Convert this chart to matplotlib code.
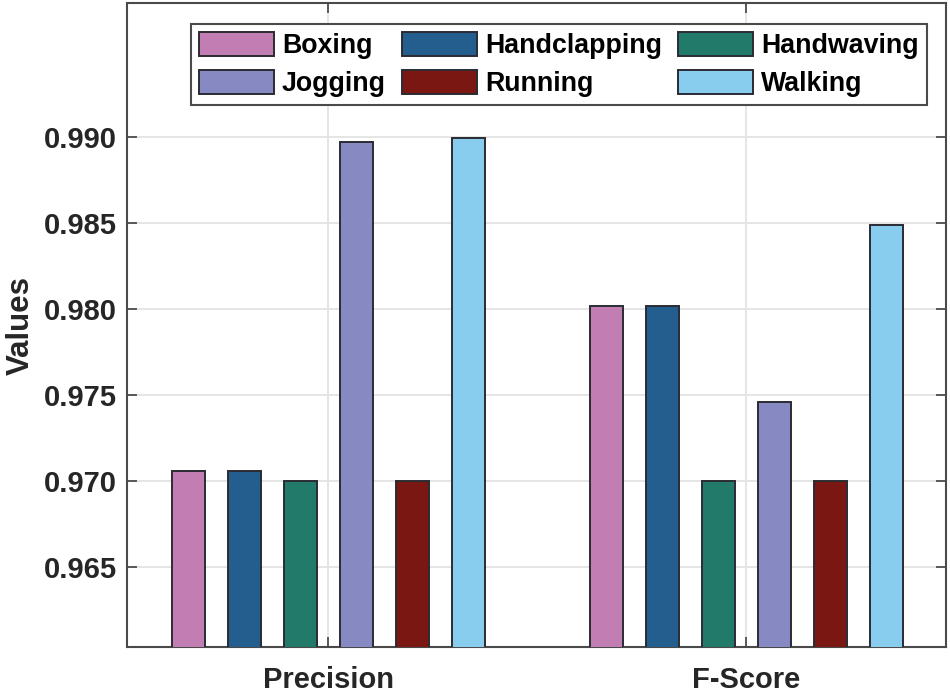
import matplotlib.pyplot as plt
import numpy as np

plt.rcParams['font.family'] = ['Liberation Sans', 'DejaVu Sans']
plt.rcParams['font.weight'] = 'bold'

# metricas e classes
metricas = ['Precision', 'F-Score']
classes = ['Boxing', 'Handclapping', 'Handwaving', 'Jogging', 'Running', 'Walking']
cores = ['#C27EB3', '#245E8F', '#217A6A', '#8689C2', '#7A1712', '#88CDEE']

boxing = [0.97056, 0.98019]
handclapping = [0.97056, 0.98019]
handwaving = [0.9700, 0.9700]
jogging = [0.98971, 0.97459]
running = [0.9700, 0.9700]
walking = [0.98992, 0.98488]

valores = [boxing, handclapping, handwaving, jogging, running, walking]
yticks = [0.965, 0.970, 0.975, 0.980, 0.985, 0.990]

fig = plt.figure(figsize=(9.5, 6.94), dpi=100)
ax = fig.add_axes([0.1337, 0.0677, 0.862, 0.928])

x = np.arange(1, len(metricas) + 1)
passo = 0.134
larg = 0.079
barras = []
for i, (nome, v) in enumerate(zip(classes, valores)):
    b = ax.bar(x + (i - 2.5) * passo, v, larg, color=cores[i], edgecolor='#2b2b33',
               linewidth=1.4, label=nome, zorder=3)
    barras.append(b)

ax.set_xlim(0.519, 2.478)
ax.set_ylim(0.96035, 0.9978)
ax.set_xticks(x)
ax.set_xticklabels(metricas)
ax.set_yticks(yticks)
ax.set_yticklabels(['%.3f' % t for t in yticks])
ax.tick_params(axis='both', labelsize=21, direction='in', length=7, width=1.2,
               color='#404040', labelcolor='#262626', top=True, right=True)
ax.tick_params(axis='x', pad=14)
ax.tick_params(axis='y', pad=7)
ax.set_ylabel('Values', fontsize=22.5, fontweight='bold', color='#262626', labelpad=6)
ax.grid(True, color='#e3e3e3', linewidth=1.3, zorder=0)
for s in ax.spines.values():
    s.set_color('#4a4a4a')
    s.set_linewidth(1.5)

# ordem da legenda por linhas (3 colunas)
ordem = [0, 3, 1, 4, 2, 5]
leg = ax.legend([barras[k] for k in ordem], [classes[k] for k in ordem], ncol=3,
                loc='upper right', bbox_to_anchor=(0.977, 0.967), borderaxespad=0,
                fontsize=19.3, handlelength=2.8, handleheight=1.0, columnspacing=0.6,
                handletextpad=0.3, labelspacing=0.38, borderpad=0.3,
                fancybox=False, framealpha=1, edgecolor='#4a4a4a')
leg.get_frame().set_linewidth(1.5)

fig.savefig('out.png', dpi=100)
